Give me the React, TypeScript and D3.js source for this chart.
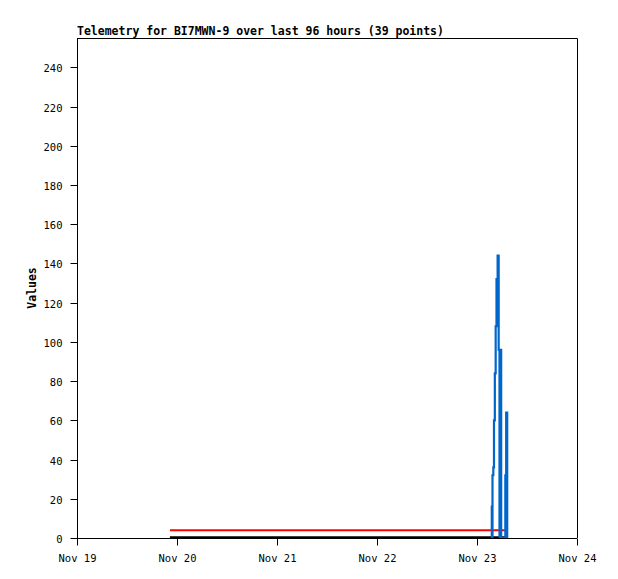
import React, { useEffect, useRef } from 'react';
import * as d3 from 'd3';

// hours since Nov 19 00:00
const dayLabels = ['Nov 19', 'Nov 20', 'Nov 21', 'Nov 22', 'Nov 23', 'Nov 24'];
const yTicks = [0, 20, 40, 60, 80, 100, 120, 140, 160, 180, 200, 220, 240];

const redSeries: [number, number][] = [
  [22.3, 4], [40, 4], [60, 4], [80, 4], [99.4, 4], [103.0, 4], [103.1, 2.5],
];
const blackSeries: [number, number][] = [
  [22.3, 0.4], [60, 0.4], [99.4, 0.4], [103.1, 0.4],
];
const blueSeries: [number, number][] = [
  [99.45, 0], [99.55, 16], [99.68, 0], [99.72, 32], [99.92, 36], [100.08, 60],
  [100.28, 84], [100.48, 108], [100.68, 132], [100.95, 144], [101.2, 96],
  [101.4, 0], [101.55, 96], [101.8, 0], [102.8, 32], [103.0, 64], [103.25, 0],
];

const W = 618;
const H = 579;
const margin = { top: 38, right: 41, bottom: 41, left: 77 };

export default function App() {
  const svgRef = useRef<SVGSVGElement>(null);

  useEffect(() => {
    if (!svgRef.current) return;
    const svg = d3.select(svgRef.current);
    svg.selectAll('*').remove();

    const innerW = W - margin.left - margin.right;
    const innerH = H - margin.top - margin.bottom;
    const font = '"DejaVu Sans Mono", monospace';

    const x = d3.scaleLinear().domain([0, 120]).range([0, innerW]);
    const y = d3.scaleLinear().domain([0, 255]).range([innerH, 0]);

    const g = svg.append('g').attr('transform', `translate(${margin.left},${margin.top})`);

    // frame (top + right)
    g.append('path')
      .attr('d', `M0.5,0.5H${innerW + 0.5}V${innerH}`)
      .attr('fill', 'none')
      .attr('stroke', '#000');

    const line = d3.line<[number, number]>()
      .x((d) => x(d[0]))
      .y((d) => y(d[1]));

    g.append('path').datum(redSeries).attr('d', line)
      .attr('fill', 'none').attr('stroke', '#ff0000').attr('stroke-width', 2);
    g.append('path').datum(blackSeries).attr('d', line)
      .attr('fill', 'none').attr('stroke', '#000').attr('stroke-width', 2);
    g.append('path').datum(blueSeries).attr('d', line.curve(d3.curveStepAfter))
      .attr('fill', 'none').attr('stroke', '#0066cc').attr('stroke-width', 2.2);

    // x axis
    const xAxis = g.append('g').attr('transform', `translate(0,${innerH + 0.5})`);
    xAxis.append('line').attr('x1', 0).attr('x2', innerW).attr('stroke', '#000');
    dayLabels.forEach((lab, i) => {
      const px = Math.round(x(i * 24)) + 0.5;
      xAxis.append('line').attr('x1', px).attr('x2', px).attr('y1', 0).attr('y2', 7).attr('stroke', '#000');
      xAxis.append('text').attr('x', px).attr('y', 23).attr('text-anchor', 'middle')
        .attr('font-family', font).attr('font-size', 10.5).text(lab);
    });

    // y axis
    const yAxis = g.append('g').attr('transform', 'translate(0.5,0)');
    yAxis.append('line').attr('y1', 0).attr('y2', innerH).attr('stroke', '#000');
    yTicks.forEach((t) => {
      const py = Math.round(y(t)) + 0.5;
      yAxis.append('line').attr('x1', -7).attr('x2', 0).attr('y1', py).attr('y2', py).attr('stroke', '#000');
      yAxis.append('text').attr('x', -15).attr('y', py + 4).attr('text-anchor', 'end')
        .attr('font-family', font).attr('font-size', 10.5).text(t);
    });

    svg.append('text')
      .attr('transform', `translate(36,${margin.top + innerH / 2}) rotate(-90)`)
      .attr('text-anchor', 'middle')
      .attr('font-family', font).attr('font-weight', 'bold').attr('font-size', 11.5)
      .text('Values');

    svg.append('text').attr('x', margin.left).attr('y', 35)
      .attr('font-family', font).attr('font-weight', 'bold').attr('font-size', 11.5)
      .text('Telemetry for BI7MWN-9 over last 96 hours (39 points)');
  }, []);

  return (
    <svg ref={svgRef} width={W} height={H}
      style={{ position: 'absolute', left: 0, top: 0, background: '#fff' }} />
  );
}
